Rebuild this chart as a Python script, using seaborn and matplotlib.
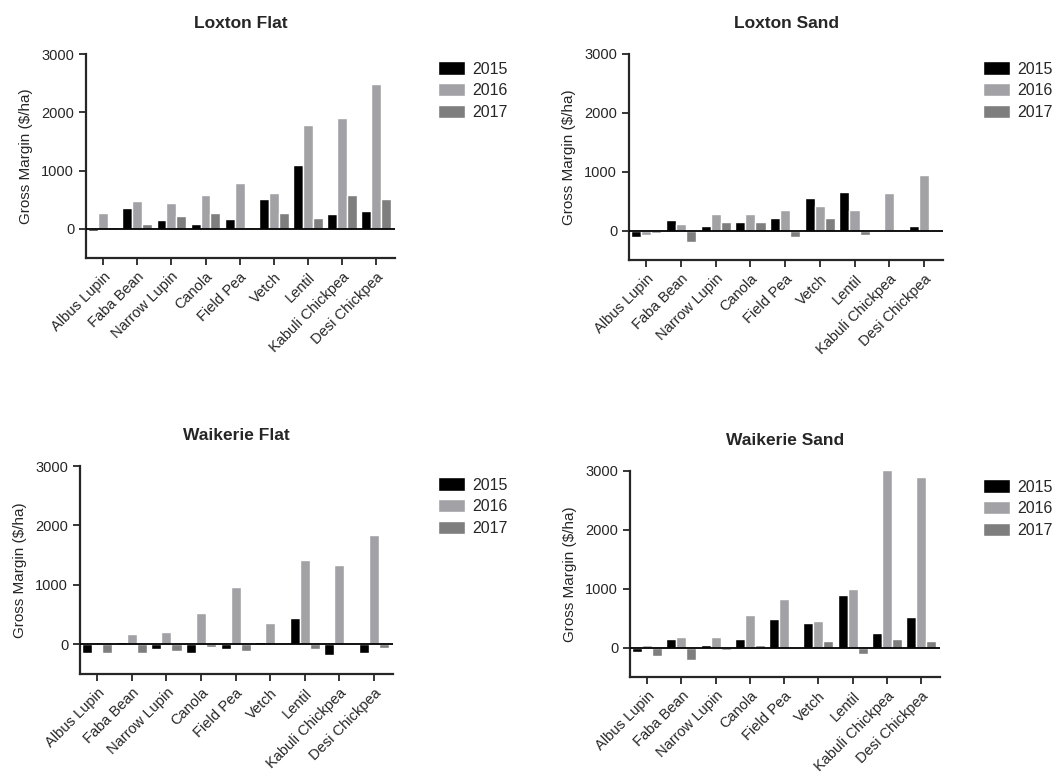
import pandas as pd
import numpy as np
import seaborn as sns
import matplotlib.pyplot as plt

# Crops and years
crops = ["Albus Lupin", "Faba Bean", "Narrow Lupin", "Canola", "Field Pea",
         "Vetch", "Lentil", "Kabuli Chickpea", "Desi Chickpea"]
years = ["2015", "2016", "2017"]

# Gross margin ($/ha)
loxton_flat_2015 = [-30, 350, 150, 80, 170, 520, 1090, 250, 310]
loxton_flat_2016 = [280, 480, 450, 580, 790, 620, 1780, 1910, 2490]
loxton_flat_2017 = [40, 80, 215, 280, 30, 280, 180, 580, 520]

loxton_sand_2015 = [-110, 180, 80, 150, 210, 560, 660, 0, 80]
loxton_sand_2016 = [-70, 110, 280, 280, 350, 420, 350, 630, 940]
loxton_sand_2017 = [-40, -190, 150, 150, -110, 210, -80, 0, -30]

waikerie_flat_2015 = [-150, 40, -80, -150, -80, 40, 450, -180, -150]
waikerie_flat_2016 = [40, 180, 210, 520, 970, 350, 1410, 1340, 1840]
waikerie_flat_2017 = [-150, -150, -120, -40, -110, 30, -80, 30, -70]

waikerie_sand_2015 = [-80, 150, 50, 150, 490, 420, 900, 250, 520]
waikerie_sand_2016 = [40, 180, 180, 560, 830, 450, 1000, 3010, 2900]
waikerie_sand_2017 = [-150, -210, -40, 40, -30, 110, -110, 150, 110]

titles = ["Loxton Flat", "Loxton Sand", "Waikerie Flat", "Waikerie Sand"]
site_data = [
    (loxton_flat_2015, loxton_flat_2016, loxton_flat_2017),
    (loxton_sand_2015, loxton_sand_2016, loxton_sand_2017),
    (waikerie_flat_2015, waikerie_flat_2016, waikerie_flat_2017),
    (waikerie_sand_2015, waikerie_sand_2016, waikerie_sand_2017),
]

colors = ["#000000", "#a2a2a6", "#7e7e7e"]

sns.set_style("ticks")
plt.rcParams['font.family'] = ['Liberation Sans', 'DejaVu Sans']

W, H = 1061, 783
fig = plt.figure(figsize=(W / 100, H / 100), dpi=100)

# axes boxes in pixels: left, right, top, bottom
boxes = [(86, 395, 54, 258), (629, 943, 54, 260),
         (80, 393, 466, 674), (630, 940, 471, 677)]
legend_pos = [(432, 55), (977, 55), (432, 471), (977, 473)]

for i in range(4):
    l, r, t, b = boxes[i]
    ax = fig.add_axes([l / W, 1 - b / H, (r - l) / W, (b - t) / H])
    vals = site_data[i]
    df = pd.DataFrame({
        "crop": crops * 3,
        "year": [y for y in years for _ in crops],
        "gm": list(vals[0]) + list(vals[1]) + list(vals[2]),
    })
    sns.barplot(data=df, x="crop", y="gm", hue="year", palette=colors,
                width=0.87, gap=0, ax=ax, saturation=1, errorbar=None)
    ax.axhline(0, color="black", lw=1.3, zorder=5)
    ax.set_ylim(-500, 3000)
    ax.set_xlim(-0.5, 8.55)
    ax.set_yticks([0, 1000, 2000, 3000])
    ax.set_xlabel("")
    ax.set_ylabel("Gross Margin ($/ha)", fontsize=11, labelpad=6)
    ax.set_title(titles[i], fontsize=12.5, fontweight="bold", pad=19)
    sns.despine(ax=ax)
    for s in ["left", "bottom"]:
        ax.spines[s].set_linewidth(1.6)
    ax.tick_params(width=1.3, length=5, labelsize=10.5)
    ax.set_xticks(range(len(crops)))
    ax.set_xticklabels(crops, rotation=45, ha="right", rotation_mode="anchor",
                       fontsize=10.5)
    handles, labels = ax.get_legend_handles_labels()
    ax.legend_.remove()
    lx, ly = legend_pos[i]
    fig.legend(handles, labels, loc="upper left",
               bbox_to_anchor=(lx / W, 1 - ly / H), frameon=False,
               fontsize=11.5, handlelength=1.65, handleheight=0.9,
               labelspacing=0.42, handletextpad=0.5, borderaxespad=0)

plt.savefig("out.png", dpi=100)
